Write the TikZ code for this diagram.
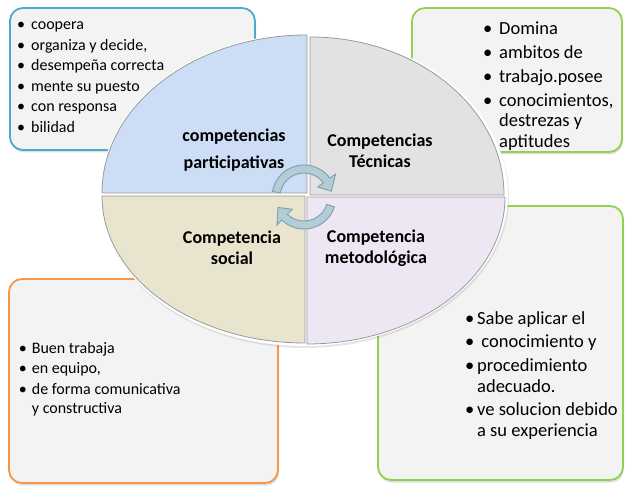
\documentclass[tikz,border=0pt]{standalone}
\usepackage{fontspec}
\setmainfont{Carlito}
\usetikzlibrary{shadows}
\definecolor{tealline}{HTML}{4BACC6}
\definecolor{greenline}{HTML}{92D050}
\definecolor{orangeline}{HTML}{F79646}
\definecolor{boxfill}{HTML}{F3F3F3}
\definecolor{partfill}{HTML}{CCDDF5}
\definecolor{tecfill}{HTML}{E2E2E2}
\definecolor{socfill}{HTML}{E8E4CE}
\definecolor{metfill}{HTML}{EDE7F4}
\definecolor{quadedge}{HTML}{9A9A9A}
\definecolor{arrowfill}{HTML}{B3CCD6}
\definecolor{arrowedge}{HTML}{7E9FAE}
\newcommand{\itm}[1]{\makebox[#1][l]{\textbullet}}

\begin{document}
\begin{tikzpicture}[x=1pt,y=1pt,
  infobox/.style={line width=1.8pt, rounded corners=13pt, fill=boxfill, inner sep=0pt,
    drop shadow={opacity=0.25, shadow xshift=1pt, shadow yshift=-2.5pt}},
  bodytext/.style={anchor=north west, inner sep=0pt, align=left},
  quad/.style={draw=quadedge, line width=0.8pt},
  qlabel/.style={align=center, inner sep=0pt, font=\fontsize{18}{20.5}\selectfont\bfseries},
  cyclearrow/.style={draw=arrowedge, fill=arrowfill, line width=0.9pt}]

\useasboundingbox[fill=white] (0,0) rectangle (626,487);

\node[infobox, draw=tealline, minimum width=245, minimum height=142] (partbox) at (132.5,408) {};
\node[infobox, draw=greenline, minimum width=210, minimum height=144] (tecbox) at (517,407) {};
\node[infobox, draw=orangeline, minimum width=269, minimum height=204] (socbox) at (143.5,106) {};
\node[infobox, draw=greenline, minimum width=245, minimum height=274] (metbox) at (500.5,144) {};

\node[bodytext, font=\fontsize{16}{20.6}\selectfont] (parttext) at (17,472.2)
  {\strut\itm{14pt}coopera\\\itm{14pt}organiza y decide,\\\itm{14pt}desempeña correcta\\\itm{14pt}mente su puesto\\\itm{14pt}con responsa\\\itm{14pt}bilidad};
\node[bodytext, font=\fontsize{18.5}{20.5}\selectfont] (tectext) at (483,467.5)
  {\strut\itm{16pt}Domina\\[3.5pt]\itm{16pt}ambitos de\\[3.5pt]\itm{16pt}trabajo.posee\\[3.5pt]\itm{16pt}conocimientos,\\\hspace*{16pt}destrezas y\\\hspace*{16pt}aptitudes};
\node[bodytext, font=\fontsize{16}{19}\selectfont] (soctext) at (18.7,147)
  {\strut\itm{13pt}Buen trabaja\\[1.5pt]\itm{13pt}en equipo,\\[1.5pt]\itm{13pt}de forma comunicativa\\\hspace*{13pt}y constructiva};
\node[bodytext, font=\fontsize{18.5}{21}\selectfont] (mettext) at (465,177.4)
  {\strut\itm{12pt}Sabe aplicar el\\[2.5pt]\itm{12pt}\ conocimiento y\\[2.5pt]\itm{12pt}procedimiento\\\hspace*{12pt}adecuado.\\[2.5pt]\itm{12pt}ve solucion debido\\\hspace*{12pt}a su experiencia};

\fill[white, drop shadow={opacity=0.2, shadow xshift=1pt, shadow yshift=-2pt}] (100,292)
  arc[start angle=180, end angle=0, x radius=204, y radius=161]
  arc[start angle=0, end angle=-180, x radius=204, y radius=151] -- cycle;
\filldraw[quad, fill=tecfill] (310,292) -- (310,450) arc[start angle=90, end angle=0, x radius=194, y radius=158] -- cycle;
\filldraw[quad, fill=partfill] (307,294) -- (102,294) arc[start angle=180, end angle=90, x radius=205, y radius=158] -- cycle;
\filldraw[quad, fill=metfill] (307,290) -- (505,290) arc[start angle=0, end angle=-90, x radius=198, y radius=147] -- cycle;
\filldraw[quad, fill=socfill] (305,291) -- (305,144) arc[start angle=-90, end angle=-180, x radius=203, y radius=147] -- cycle;

\node[qlabel] (partlabel) at (234,337) {competencias\\[6.5pt]participativas};
\node[qlabel] (teclabel) at (380,336) {Competencias\\Técnicas};
\node[qlabel] (soclabel) at (232,239) {Competencia\\social};
\node[qlabel] (metlabel) at (376,239) {Competencia\\metodológica};

\coordinate (hub) at (304,290);
\filldraw[cyclearrow] ([shift={(170:32)}]hub) arc[start angle=170, end angle=36, radius=32]
  -- ([shift={(36:39)}]hub) -- ([shift={(12:28)}]hub) -- ([shift={(36:17)}]hub)
  -- ([shift={(36:24)}]hub) arc[start angle=36, end angle=170, radius=24] -- cycle;
\filldraw[cyclearrow] ([shift={(-18:32)}]hub) arc[start angle=-18, end angle=-134, radius=32]
  -- ([shift={(-134:39)}]hub) -- ([shift={(-158:28)}]hub) -- ([shift={(-134:17)}]hub)
  -- ([shift={(-134:24)}]hub) arc[start angle=-134, end angle=-18, radius=24] -- cycle;
\end{tikzpicture}
\end{document}
